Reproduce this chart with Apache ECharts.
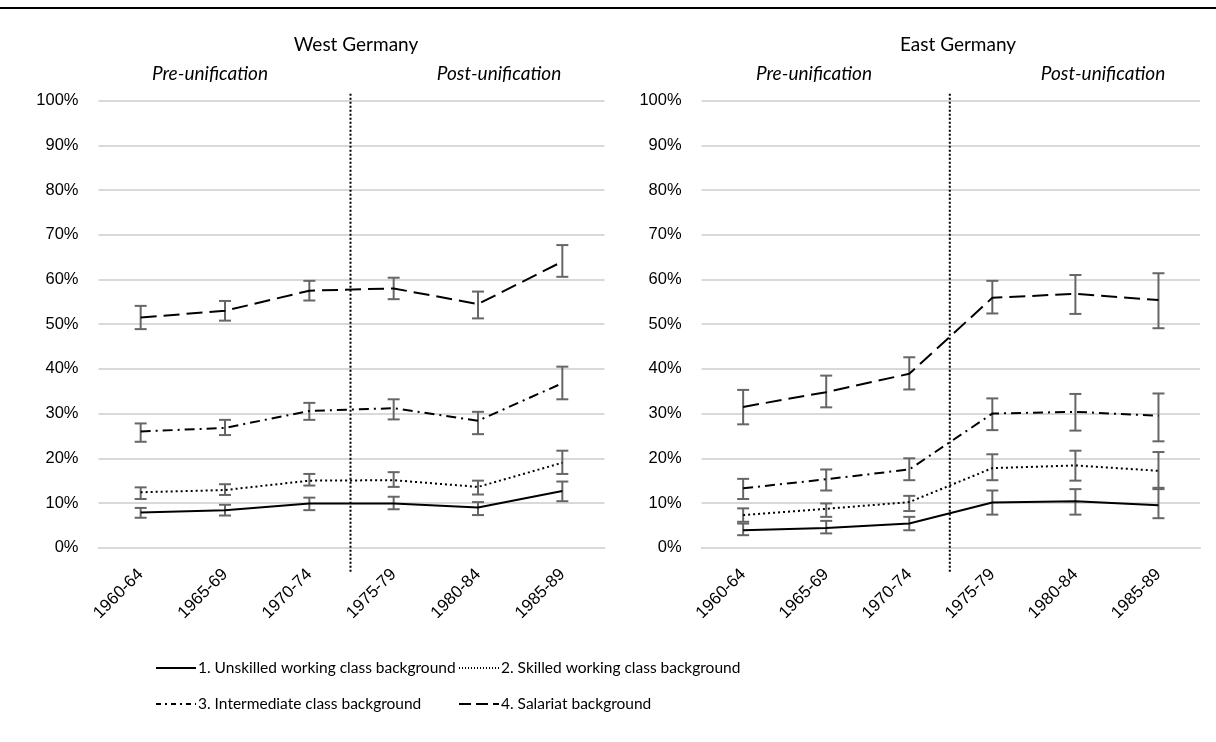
<!DOCTYPE html>
<html>
<head>
<meta charset="utf-8">
<script src="https://cdn.jsdelivr.net/npm/echarts@6/dist/echarts.min.js"></script>
<style>
  html, body { margin: 0; padding: 0; background: #fff; }
  #main { width: 1216px; height: 742px; }
</style>
</head>
<body>
<div id="main"></div>
<script>
const periods = ['1960-64', '1965-69', '1970-74', '1975-79', '1980-84', '1985-89'];
const yTicks = [0, 10, 20, 30, 40, 50, 60, 70, 80, 90, 100];

const seriesNames = [
    '1. Unskilled working class background',
    '2. Skilled working class background',
    '3. Intermediate class background',
    '4. Salariat background'
];

// West Germany (percent), point estimate + confidence interval
const westUnskilled     = [7.9, 8.4, 9.9, 9.9, 9.0, 12.7];
const westUnskilledLow  = [6.7, 7.2, 8.4, 8.6, 7.3, 10.4];
const westUnskilledHigh = [8.9, 9.6, 11.2, 11.4, 10.2, 14.8];
const westSkilled       = [12.4, 12.9, 15.0, 15.1, 13.6, 19.0];
const westSkilledLow    = [10.9, 11.8, 13.9, 13.6, 11.9, 16.5];
const westSkilledHigh   = [13.5, 14.2, 16.5, 16.9, 15.0, 21.7];
const westInter         = [26.0, 26.8, 30.6, 31.2, 28.4, 36.8];
const westInterLow      = [23.7, 25.2, 28.6, 28.7, 25.4, 33.2];
const westInterHigh     = [27.8, 28.6, 32.4, 33.2, 30.4, 40.5];
const westSalariat      = [51.5, 53.0, 57.5, 58.0, 54.5, 64.0];
const westSalariatLow   = [48.9, 50.8, 55.3, 55.6, 51.3, 60.6];
const westSalariatHigh  = [54.1, 55.2, 59.7, 60.4, 57.3, 67.7];

// East Germany (percent)
const eastUnskilled     = [3.9, 4.4, 5.4, 10.1, 10.4, 9.5];
const eastUnskilledLow  = [2.8, 3.2, 3.9, 7.4, 7.4, 6.6];
const eastUnskilledHigh = [5.4, 6.0, 6.9, 12.8, 13.1, 13.1];
const eastSkilled       = [7.3, 8.7, 10.2, 17.8, 18.4, 17.2];
const eastSkilledLow    = [5.8, 6.9, 8.2, 15.1, 15.0, 13.4];
const eastSkilledHigh   = [8.8, 9.9, 11.6, 20.9, 21.7, 21.4];
const eastInter         = [13.3, 15.3, 17.5, 30.0, 30.4, 29.5];
const eastInterLow      = [10.9, 12.8, 15.1, 26.3, 26.2, 23.8];
const eastInterHigh     = [15.4, 17.5, 20.0, 33.4, 34.4, 34.5];
const eastSalariat      = [31.5, 34.8, 38.9, 55.9, 56.8, 55.4];
const eastSalariatLow   = [27.6, 31.4, 35.4, 52.4, 52.3, 49.1];
const eastSalariatHigh  = [35.3, 38.5, 42.6, 59.7, 61.0, 61.4];

const panels = [
    { lines: [westUnskilled, westSkilled, westInter, westSalariat],
      lows: [westUnskilledLow, westSkilledLow, westInterLow, westSalariatLow],
      highs: [westUnskilledHigh, westSkilledHigh, westInterHigh, westSalariatHigh] },
    { lines: [eastUnskilled, eastSkilled, eastInter, eastSalariat],
      lows: [eastUnskilledLow, eastSkilledLow, eastInterLow, eastSalariatLow],
      highs: [eastUnskilledHigh, eastSkilledHigh, eastInterHigh, eastSalariatHigh] }
];

const dashTypes = ['solid', [2, 3], [10, 5, 2, 5], [16, 7]];
const legendDash = ['solid', [1, 2], [5, 4, 2, 4], [12, 5]];
const labelFont = 'Liberation Sans';
const textFont = 'Lato';
const gridColor = '#d9d9d9';
const barColor = '#666666';

function errorBarItem(params, api) {
    const x = api.value(0);
    const top = api.coord([x, api.value(2)]);
    const bot = api.coord([x, api.value(1)]);
    const cap = 6;
    const style = { stroke: barColor, lineWidth: 2 };
    return {
        type: 'group',
        children: [
            { type: 'line', shape: { x1: top[0], y1: top[1], x2: bot[0], y2: bot[1] }, style: style },
            { type: 'line', shape: { x1: top[0] - cap, y1: top[1], x2: top[0] + cap, y2: top[1] }, style: style },
            { type: 'line', shape: { x1: bot[0] - cap, y1: bot[1], x2: bot[0] + cap, y2: bot[1] }, style: style }
        ]
    };
}

const series = [];
panels.forEach((p, g) => {
    p.lines.forEach((vals, i) => {
        series.push({
            type: 'custom',
            xAxisIndex: g, yAxisIndex: g,
            renderItem: errorBarItem,
            z: 2,
            silent: true,
            data: periods.map((_, k) => [k, p.lows[i][k], p.highs[i][k]])
        });
    });
    p.lines.forEach((vals, i) => {
        series.push({
            name: seriesNames[i],
            type: 'line',
            xAxisIndex: g, yAxisIndex: g,
            symbol: 'none',
            z: 3,
            lineStyle: { color: '#000', width: 2, type: dashTypes[i] },
            itemStyle: { color: '#000' },
            data: vals
        });
    });
});

function xAxis(g) {
    return {
        type: 'category', gridIndex: g, data: periods,
        axisLine: { lineStyle: { color: gridColor, width: 2 } },
        axisTick: { alignWithLabel: true, length: 5, lineStyle: { color: gridColor, width: 2 } },
        axisLabel: { rotate: 45, margin: 24, color: '#000', fontSize: 17, fontFamily: labelFont }
    };
}
function yAxis(g) {
    return {
        type: 'value', gridIndex: g, min: 0, max: 100, interval: 10,
        axisLine: { show: false }, axisTick: { show: false },
        splitLine: { lineStyle: { color: gridColor, width: 2 } },
        axisLabel: { formatter: '{value}%', margin: 20, color: '#000', fontSize: 16.5, fontFamily: labelFont }
    };
}

const titleStyle = { color: '#000', fontSize: 19, fontFamily: textFont, fontWeight: 'normal' };
const subStyle = { color: '#000', fontSize: 19, fontFamily: textFont, fontStyle: 'italic', fontWeight: 'normal' };

const legendPos = [[155, 660], [458, 660], [155, 696], [458, 696]];

const chart = echarts.init(document.getElementById('main'));
chart.setOption({
    backgroundColor: '#fff',
    animation: false,
    title: [
        { text: 'West Germany', left: 351, top: 30, textAlign: 'center', textStyle: titleStyle },
        { text: 'East Germany', left: 953, top: 30, textAlign: 'center', textStyle: titleStyle },
        { text: 'Pre-unification', left: 205, top: 59, textAlign: 'center', textStyle: subStyle },
        { text: 'Post-unification', left: 494, top: 59, textAlign: 'center', textStyle: subStyle },
        { text: 'Pre-unification', left: 809, top: 59, textAlign: 'center', textStyle: subStyle },
        { text: 'Post-unification', left: 1098, top: 59, textAlign: 'center', textStyle: subStyle }
    ],
    legend: seriesNames.map((n, i) => ({
        data: [n],
        left: legendPos[i][0], top: legendPos[i][1],
        padding: 0,
        itemWidth: 40, itemHeight: 14, itemGap: 4,
        itemStyle: { opacity: 0, borderWidth: 0 },
        lineStyle: { color: '#000', width: 2, type: legendDash[i] },
        textStyle: { color: '#000', fontSize: 15.5, fontFamily: textFont, padding: [0, 0, 0, -3] },
        selectedMode: false
    })),
    grid: [
        { left: 98.5, right: 611.5, top: 100.7, bottom: 194.3 },
        { left: 701.6, right: 16, top: 100.7, bottom: 194.3 }
    ],
    xAxis: [xAxis(0), xAxis(1)],
    yAxis: [yAxis(0), yAxis(1)],
    series: series
});

// dotted divider between pre- and post-unification cohorts, plus top rule
const graphics = [
    { type: 'line', shape: { x1: 0, y1: 8, x2: 1216, y2: 8 }, style: { stroke: '#000', lineWidth: 2 } }
];
[0, 1].forEach(g => {
    const xa = chart.convertToPixel({ xAxisIndex: g }, periods[2]);
    const xb = chart.convertToPixel({ xAxisIndex: g }, periods[3]);
    const yTop = chart.convertToPixel({ yAxisIndex: g }, yTicks[yTicks.length - 1]) - 7;
    const yBot = chart.convertToPixel({ yAxisIndex: g }, yTicks[0]) + 24;
    const x = (xa + xb) / 2 - 1;
    graphics.push({
        type: 'line', z: 10,
        shape: { x1: x, y1: yTop, x2: x, y2: yBot },
        style: { stroke: '#000', lineWidth: 2, lineDash: [2, 2] }
    });
});
chart.setOption({ graphic: graphics });
</script>
</body>
</html>
